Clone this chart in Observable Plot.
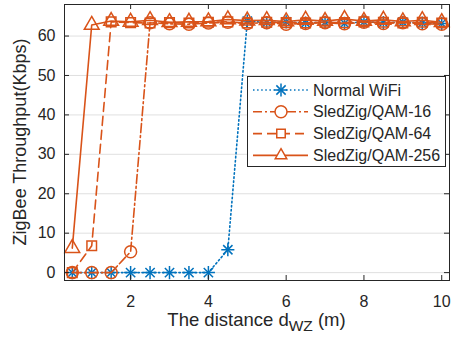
<!DOCTYPE html>
<html><head><meta charset="utf-8">
<script src="https://cdn.jsdelivr.net/npm/d3@7"></script>
<script src="https://cdn.jsdelivr.net/npm/@observablehq/plot@0.6"></script>
<style>
html,body{margin:0;padding:0;background:#fff;}
#chart{position:relative;width:465px;height:338px;}
#chart svg.overlay{position:absolute;left:0;top:0;}
</style></head><body><div id="chart"></div>
<script>
const distance = [0.5,1,1.5,2,2.5,3,3.5,4,4.5,5,5.5,6,6.5,7,7.5,8,8.5,9,9.5,10];
const normalWiFi = [0,0,0,0,0,0,0,0,5.8,63.8,63.4,63.6,63.3,63.5,63.2,63.6,63.4,63.5,63.3,63.2];
const qam16 = [0,0,0,5.3,63.4,63.1,63.0,63.3,63.5,63.2,63.4,63.0,63.2,63.4,63.1,63.5,63.2,63.4,63.1,63.0];
const qam64 = [0,6.8,63.6,63.4,63.3,63.4,63.3,63.5,63.6,63.3,63.5,63.4,63.3,63.5,63.4,63.6,63.5,63.3,63.5,63.3];
const qam256 = [6.2,62.8,63.8,63.6,64.0,63.5,63.6,63.7,64.2,63.9,64.0,63.7,64.1,63.8,64.3,63.8,64.1,63.7,64.0,63.5];
const seriesNames = ["Normal WiFi","SledZig/QAM-16","SledZig/QAM-64","SledZig/QAM-256"];
const xTicks = [2,4,6,8,10];
const yTicks = [0,10,20,30,40,50,60];
const xLabel = "The distance d";
const xLabelSub = "WZ";
const xLabelTail = " (m)";
const yLabel = "ZigBee Throughput(Kbps)";

const W = 465, H = 338;
const mL = 64, mR = 16, mT = 4, mB = 58;
const pw = W - mL - mR, ph = H - mT - mB;
const blue = "#0072BD", orange = "#D95319", ink = "#262626";
const font = "'Liberation Sans', Arial, Helvetica, sans-serif";

const styles = [
  {color: blue,   dash: "1.5,2.6", symbols: [["plus",4.3],["times",4.3]]},
  {color: orange, dash: "9,3,2,3", symbols: [["circle",6]]},
  {color: orange, dash: "9,5",     symbols: [["square",5.4]]},
  {color: orange, dash: null,      symbols: [["triangle",5.5]]}
];
const values = [normalWiFi, qam16, qam64, qam256];
const rows = values.map((vals, i) => distance.map((d, j) => ({x: d, y: vals[j], series: seriesNames[i]})));

const marks = [Plot.gridY(yTicks, {stroke: ink, strokeOpacity: 0.14, strokeWidth: 1})];
rows.forEach((data, i) => {
  const s = styles[i];
  marks.push(Plot.line(data, {x: "x", y: "y", stroke: s.color, strokeWidth: 1.6, strokeDasharray: s.dash}));
  s.symbols.forEach(([sym, r]) => {
    marks.push(Plot.dot(data, {x: "x", y: "y", symbol: sym, r, stroke: s.color, fill: "none", strokeWidth: 1.5}));
  });
});
marks.push(
  Plot.frame({stroke: ink, strokeWidth: 1}),
  Plot.tickX(xTicks, {x: d => d, insetTop: ph - 5, stroke: ink}),
  Plot.tickX(xTicks, {x: d => d, insetBottom: ph - 5, stroke: ink}),
  Plot.tickY(yTicks, {y: d => d, insetRight: pw - 5, stroke: ink}),
  Plot.tickY(yTicks, {y: d => d, insetLeft: pw - 5, stroke: ink}),
  Plot.axisX(xTicks, {tickSize: 0, tickPadding: 15, label: null, fill: ink}),
  Plot.axisY(yTicks, {tickSize: 0, tickPadding: 9, label: null, fill: ink})
);

const chart = Plot.plot({
  width: W, height: H,
  marginLeft: mL, marginRight: mR, marginTop: mT, marginBottom: mB,
  x: {domain: [0.3, 10.2]},
  y: {domain: [-2, 68]},
  style: {fontFamily: font, fontSize: "16px", color: ink, background: "#fff"},
  marks
});
const host = document.getElementById("chart");
host.appendChild(chart);

// overlay for labels and legend
const ov = d3.select(host).append("svg").attr("class", "overlay")
  .attr("width", W).attr("height", H)
  .style("font-family", font).attr("text-anchor", "start");
const xl = ov.append("text").attr("x", mL + pw / 2).attr("y", 326)
  .attr("text-anchor", "middle").attr("fill", ink).style("font-size", "18.5px");
xl.append("tspan").text(xLabel);
xl.append("tspan").attr("dy", 5).style("font-size", "15.5px").text(xLabelSub);
xl.append("tspan").attr("dy", -5).text(xLabelTail);
ov.append("text").attr("transform", `translate(26,${mT + ph / 2}) rotate(-90)`)
  .attr("text-anchor", "middle").attr("fill", ink)
  .style("font-size", "18px").text(yLabel);

const symMap = {plus: d3.symbolPlus, times: d3.symbolTimes, circle: d3.symbolCircle, square: d3.symbolSquare2, triangle: d3.symbolTriangle2};
const lg = ov.append("g");
lg.append("rect").attr("x", 247.5).attr("y", 76.5).attr("width", 198).attr("height", 90)
  .attr("fill", "#ffffff").attr("stroke", ink).attr("stroke-width", 1);
seriesNames.forEach((name, i) => {
  const s = styles[i];
  const cy = 90 + i * 21.8;
  const ln = lg.append("line").attr("x1", 253).attr("x2", 308).attr("y1", cy).attr("y2", cy)
    .attr("stroke", s.color).attr("stroke-width", 1.6);
  if (s.dash) ln.attr("stroke-dasharray", s.dash);
  s.symbols.forEach(([sym, r]) => {
    lg.append("path").attr("transform", `translate(281,${cy})`)
      .attr("d", d3.symbol(symMap[sym], Math.PI * r * r)())
      .attr("fill", "#ffffff").attr("stroke", s.color).attr("stroke-width", 1.5);
  });
  lg.append("text").attr("x", 313).attr("y", cy).attr("dy", "0.35em").attr("fill", ink)
    .attr("text-anchor", "start").style("font-size", "16px").text(name);
});
</script></body></html>
